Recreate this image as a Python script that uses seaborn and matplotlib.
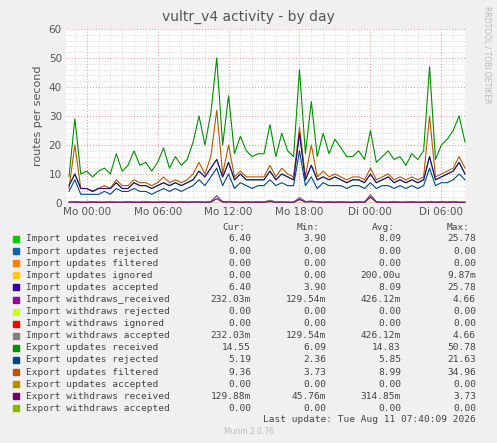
import numpy as np
import pandas as pd
import matplotlib
matplotlib.use("Agg")
import matplotlib.pyplot as plt
import matplotlib.dates as mdates
import seaborn as sns

start = "2026-08-09 22:30"
export_received = [9,29,10,11,9,11,12,10,17,11,
                   13,18,13,14,11,14,19,12,16,13,
                   15,21,30,20,31,50,20,37,17,23,
                   18,16,17,17,27,16,24,18,16,46,
                   17,35,16,24,17,22,19,16,16,18,
                   15,25,14,16,18,15,16,13,17,15,
                   18,47,15,20,22,25,30,21]
export_filtered = [5,20,5,5,4,5,6,5,8,6,
                   6,8,7,7,6,7,9,7,8,7,
                   8,10,14,10,16,32,10,20,9,11,
                   9,9,9,9,13,9,12,10,9,26,
                   9,20,9,11,9,10,9,8,9,9,
                   8,12,8,9,10,8,9,8,9,8,
                   9,30,9,10,11,12,16,12]
import_received = [6,10,5,5,4,5,5,5,7,5,
                   5,7,6,6,5,6,7,6,7,6,
                   7,8,11,9,12,15,9,14,8,10,
                   8,8,8,8,11,8,10,9,8,24,
                   8,13,8,9,8,9,8,7,8,8,
                   7,10,7,8,9,7,8,7,8,7,
                   8,16,8,9,10,11,14,10]
export_rejected = [4,8,3,3,3,3,4,3,5,4,
                   4,5,4,4,3,4,5,4,5,4,
                   5,6,8,6,9,12,6,10,5,7,
                   6,5,6,6,8,6,7,6,6,18,
                   6,9,5,7,6,6,6,5,6,6,
                   5,7,5,6,6,5,6,5,6,5,
                   6,12,6,7,7,8,10,8]
import_withdraws = [0.3,0.4,0.3,0.3,0.4,0.3,0.3,0.4,0.3,0.3,
                    0.4,0.3,0.3,0.4,0.3,0.3,0.4,0.3,0.3,0.4,
                    0.3,0.4,0.4,0.3,0.5,2.5,0.4,0.5,0.4,0.3,
                    0.4,0.3,0.4,0.3,0.9,0.3,0.4,0.3,0.3,1.8,
                    0.5,0.6,0.4,0.3,0.4,0.3,0.4,0.3,0.3,0.4,
                    0.3,2.8,0.4,0.3,0.3,0.4,0.3,0.3,0.4,0.3,
                    0.3,0.4,0.3,0.4,0.3,0.5,0.3,0.3]
export_withdraws = [0.2,0.3,0.2,0.2,0.3,0.2,0.2,0.3,0.2,0.2,
                    0.3,0.2,0.2,0.3,0.2,0.2,0.3,0.2,0.2,0.3,
                    0.2,0.3,0.3,0.2,0.3,1.5,0.3,0.3,0.3,0.2,
                    0.3,0.2,0.3,0.2,0.5,0.2,0.3,0.2,0.2,1.2,
                    0.3,0.4,0.3,0.2,0.3,0.2,0.3,0.2,0.2,0.3,
                    0.2,2.0,0.3,0.2,0.2,0.3,0.2,0.2,0.3,0.2,
                    0.2,0.3,0.2,0.3,0.2,0.3,0.2,0.2]

legend_names = ["Import updates received","Import updates rejected","Import updates filtered",
    "Import updates ignored","Import updates accepted","Import withdraws_received",
    "Import withdraws rejected","Import withdraws ignored","Import withdraws accepted",
    "Export updates received","Export updates rejected","Export updates filtered",
    "Export updates accepted","Export withdraws received","Export withdraws accepted"]
legend_colors = ["#00CC00","#0066B3","#FF8000","#FFCC00","#330099","#990099","#CCFF00",
    "#FF0000","#808080","#008F00","#00487D","#B35A00","#B38F00","#6B006B","#8FB300"]
cur = ["6.40","0.00","0.00","0.00","6.40","232.03m","0.00","0.00","232.03m","14.55","5.19","9.36","0.00","129.88m","0.00"]
mins = ["3.90","0.00","0.00","0.00","3.90","129.54m","0.00","0.00","129.54m","6.09","2.36","3.73","0.00","45.76m","0.00"]
avgs = ["8.09","0.00","0.00","200.00u","8.09","426.12m","0.00","0.00","426.12m","14.83","5.85","8.99","0.00","314.85m","0.00"]
maxs = ["25.78","0.00","0.00","9.87m","25.78","4.66","0.00","0.00","4.66","50.78","21.63","34.96","0.00","3.73","0.00"]

t = pd.date_range(start, periods=len(export_received), freq="30min")
df = pd.DataFrame({"t": t})

sns.set_style("white")
fig = plt.figure(figsize=(4.97, 4.43), dpi=100, facecolor="#F0F0F0")
ax = fig.add_axes([66/497, 1-203/443, 400/497, 174/443])
ax.set_facecolor("white")

zeros = [0]*len(t)
series = [(zeros,"#0066B3"),(zeros,"#FF8000"),(zeros,"#FFCC00"),
          (import_withdraws,"#990099"),(zeros,"#CCFF00"),(zeros,"#FF0000"),
          (import_withdraws,"#808080"),(export_withdraws,"#6B006B"),(zeros,"#8FB300"),(zeros,"#B38F00"),
          (export_received,"#008F00"),(import_received,"#00CC00"),
          (export_filtered,"#B35A00"),(import_received,"#330099"),(export_rejected,"#00487D")]
for vals, c in series:
    sns.lineplot(x=df["t"], y=vals, color=c, lw=0.8, ax=ax)

x0 = pd.Timestamp("2026-08-09 22:15"); x1 = pd.Timestamp("2026-08-11 08:05")
ax.set_xlim(x0, x1)
ax.set_ylim(0, 60)
ax.set_yticks(range(0, 61, 10))
ax.set_yticks(range(0, 61, 2), minor=True)
ax.xaxis.set_minor_locator(mdates.HourLocator())
ticks = pd.date_range("2026-08-10 00:00", periods=6, freq="6h")
ax.set_xticks(ticks)
ax.set_xticklabels(["Mo 00:00","Mo 06:00","Mo 12:00","Mo 18:00","Di 00:00","Di 06:00"])
ax.grid(which="major", color="#F0A0A0", ls=":", lw=0.8)
ax.grid(which="minor", color="#D0D0D0", ls=":", lw=0.6)
ax.tick_params(labelsize=7.5, colors="#555555", length=0, pad=3)
for s in ax.spines.values():
    s.set_visible(False)
ax.axhline(0, color="#C0C0FF", lw=0.8)
ax.set_ylabel("routes per second", fontsize=8, color="#555555")
ax.set_xlabel("")
fig.text(0.5, 1-17/443, "vultr_v4 activity - by day", ha="center", va="center", fontsize=10, color="#555555")
fig.text(487/497, 1-55/443, "RRDTOOL / TOBI OETIKER", rotation=270, ha="center", va="center", fontsize=5.5, color="#BBBBBB")

mono = "DejaVu Sans Mono"
fs = 6.8
def yy(p): return 1 - p/443
for lab, xp in [("Cur:",245),("Min:",320),("Avg:",395),("Max:",470)]:
    fig.text(xp/497, yy(227), lab, ha="right", va="center", fontsize=fs, family=mono, color="#444444")
for i, n in enumerate(legend_names):
    y = yy(239 + i*12.1)
    fig.patches.append(plt.Rectangle((13/497, y-3/443), 6/497, 6/443, transform=fig.transFigure, color=legend_colors[i]))
    fig.text(26/497, y, n, ha="left", va="center", fontsize=fs, family=mono, color="#444444")
    for v, xp in [(cur[i],251),(mins[i],326),(avgs[i],401),(maxs[i],476)]:
        fig.text(xp/497, y, v, ha="right", va="center", fontsize=fs, family=mono, color="#444444")
fig.text(476/497, yy(419), "Last update: Tue Aug 11 07:40:09 2026", ha="right", va="center", fontsize=fs, family=mono, color="#444444")
fig.text(0.5, yy(432), "Munin 2.0.76", ha="center", va="center", fontsize=5.5, color="#BBBBBB")

fig.savefig("out.png", dpi=100, facecolor=fig.get_facecolor())
